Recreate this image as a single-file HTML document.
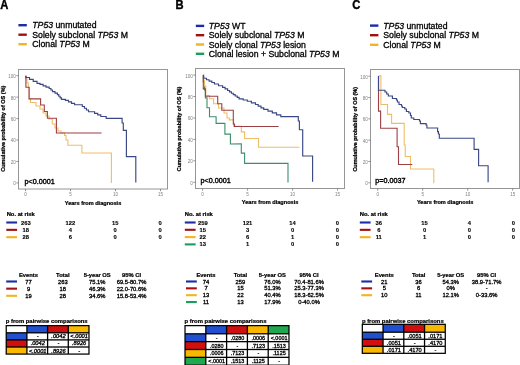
<!DOCTYPE html>
<html><head><meta charset="utf-8"><style>
html,body{margin:0;padding:0;background:#fff;}
body{width:520px;height:365px;overflow:hidden;}
svg{display:block;font-family:"Liberation Sans", sans-serif;filter:blur(0.25px);}
</style></head><body>
<svg width="520" height="365" viewBox="0 0 520 365">
<rect width="520" height="365" fill="#fff"/>
<text x="0" y="0" font-size="11.2" font-weight="bold" stroke="#000" stroke-width="0.35" transform="translate(0.3,8.6) scale(1,1.13)">A</text>
<text x="0" y="0" font-size="11.2" font-weight="bold" stroke="#000" stroke-width="0.35" transform="translate(175.4,8.6) scale(1,1.13)">B</text>
<text x="0" y="0" font-size="11.2" font-weight="bold" stroke="#000" stroke-width="0.35" transform="translate(352.3,8.6) scale(1,1.13)">C</text>
<line x1="18.4" y1="25.2" x2="26.799999999999997" y2="25.2" stroke="#1b2ea6" stroke-width="2.4" />
<text x="32.3" y="28.3" font-size="8.7" stroke="#000" stroke-width="0.3"><tspan font-style="italic">TP53</tspan> unmutated</text>
<line x1="18.4" y1="34.7" x2="26.799999999999997" y2="34.7" stroke="#a01212" stroke-width="2.4" />
<text x="32.3" y="37.8" font-size="8.7" stroke="#000" stroke-width="0.3">Solely subclonal <tspan font-style="italic">TP53</tspan> M</text>
<line x1="18.4" y1="44.2" x2="26.799999999999997" y2="44.2" stroke="#f0b424" stroke-width="2.4" />
<text x="32.3" y="47.3" font-size="8.7" stroke="#000" stroke-width="0.3">Clonal <tspan font-style="italic">TP53</tspan> M</text>
<line x1="195.8" y1="25.9" x2="204.20000000000002" y2="25.9" stroke="#1b2ea6" stroke-width="2.4" />
<text x="208.8" y="29.0" font-size="8.7" stroke="#000" stroke-width="0.3"><tspan font-style="italic">TP53</tspan> WT</text>
<line x1="195.8" y1="35.2" x2="204.20000000000002" y2="35.2" stroke="#a01212" stroke-width="2.4" />
<text x="208.8" y="38.3" font-size="8.7" stroke="#000" stroke-width="0.3">Solely subclonal <tspan font-style="italic">TP53</tspan> M</text>
<line x1="195.8" y1="44.5" x2="204.20000000000002" y2="44.5" stroke="#f0b424" stroke-width="2.4" />
<text x="208.8" y="47.6" font-size="8.7" stroke="#000" stroke-width="0.3">Solely clonal <tspan font-style="italic">TP53</tspan> lesion</text>
<line x1="195.8" y1="53.8" x2="204.20000000000002" y2="53.8" stroke="#1a9e5c" stroke-width="2.4" />
<text x="208.8" y="56.9" font-size="8.7" stroke="#000" stroke-width="0.3">Clonal lesion + Subclonal <tspan font-style="italic">TP53</tspan> M</text>
<line x1="370" y1="25.6" x2="378.4" y2="25.6" stroke="#1b2ea6" stroke-width="2.4" />
<text x="383.3" y="28.7" font-size="8.7" stroke="#000" stroke-width="0.3"><tspan font-style="italic">TP53</tspan> unmutated</text>
<line x1="370" y1="35.2" x2="378.4" y2="35.2" stroke="#a01212" stroke-width="2.4" />
<text x="383.3" y="38.3" font-size="8.7" stroke="#000" stroke-width="0.3">Solely subclonal <tspan font-style="italic">TP53</tspan> M</text>
<line x1="370" y1="44.8" x2="378.4" y2="44.8" stroke="#f0b424" stroke-width="2.4" />
<text x="383.3" y="47.9" font-size="8.7" stroke="#000" stroke-width="0.3">Clonal <tspan font-style="italic">TP53</tspan> M</text>
<rect x="18.5" y="69.5" width="149.0" height="119.5" fill="#fff" stroke="#969696" stroke-width="1"/>
<line x1="16.3" y1="75.7" x2="18.5" y2="75.7" stroke="#777" stroke-width="0.8" />
<text x="15.9" y="78.10000000000001" font-size="4.6" font-weight="normal" text-anchor="end" fill="#808080" >100</text>
<line x1="16.3" y1="97.14" x2="18.5" y2="97.14" stroke="#777" stroke-width="0.8" />
<text x="15.9" y="99.54" font-size="4.6" font-weight="normal" text-anchor="end" fill="#808080" >80</text>
<line x1="16.3" y1="118.58000000000001" x2="18.5" y2="118.58000000000001" stroke="#777" stroke-width="0.8" />
<text x="15.9" y="120.98000000000002" font-size="4.6" font-weight="normal" text-anchor="end" fill="#808080" >60</text>
<line x1="16.3" y1="140.02" x2="18.5" y2="140.02" stroke="#777" stroke-width="0.8" />
<text x="15.9" y="142.42000000000002" font-size="4.6" font-weight="normal" text-anchor="end" fill="#808080" >40</text>
<line x1="16.3" y1="161.46" x2="18.5" y2="161.46" stroke="#777" stroke-width="0.8" />
<text x="15.9" y="163.86" font-size="4.6" font-weight="normal" text-anchor="end" fill="#808080" >20</text>
<line x1="16.3" y1="182.9" x2="18.5" y2="182.9" stroke="#777" stroke-width="0.8" />
<text x="15.9" y="185.3" font-size="4.6" font-weight="normal" text-anchor="end" fill="#808080" >0</text>
<line x1="25.5" y1="189" x2="25.5" y2="191.2" stroke="#777" stroke-width="0.8" />
<text x="25.5" y="196.4" font-size="4.6" font-weight="normal" text-anchor="middle" fill="#808080" >0</text>
<line x1="70.5" y1="189" x2="70.5" y2="191.2" stroke="#777" stroke-width="0.8" />
<text x="70.5" y="196.4" font-size="4.6" font-weight="normal" text-anchor="middle" fill="#808080" >5</text>
<line x1="115.5" y1="189" x2="115.5" y2="191.2" stroke="#777" stroke-width="0.8" />
<text x="115.5" y="196.4" font-size="4.6" font-weight="normal" text-anchor="middle" fill="#808080" >10</text>
<line x1="160.5" y1="189" x2="160.5" y2="191.2" stroke="#777" stroke-width="0.8" />
<text x="160.5" y="196.4" font-size="4.6" font-weight="normal" text-anchor="middle" fill="#808080" >15</text>
<text x="93.0" y="204.6" font-size="5.6" font-weight="bold" text-anchor="middle" fill="#000"  stroke="#000" stroke-width="0.22">Years from diagnosis</text>
<text x="0" y="0" font-size="5.55" font-weight="bold" text-anchor="middle" stroke="#000" stroke-width="0.25" transform="translate(4.7,128.7) rotate(-90)">Cumulative probability of OS (%)</text>
<path d="M25.9,75.7 L25.9,79.0 L27.0,79.0 L27.0,83.0 L28.3,83.0 L28.3,87.5 L29.5,87.5 L29.5,99.0 L30.5,99.0 L30.5,102.5 L36.0,102.5 L36.0,106.0 L40.0,106.0 L40.0,109.0 L43.0,109.0 L43.0,113.0 L46.0,113.0 L46.0,116.0 L49.0,116.0 L49.0,119.0 L52.3,119.0 L52.3,124.0 L55.0,124.0 L55.0,128.0 L58.0,128.0 L58.0,131.0 L61.0,131.0 L61.0,133.0 L64.6,133.0 L64.6,135.5 L66.0,135.5 L66.0,140.0 L67.9,140.0 L67.9,145.3 L81.9,145.3 L81.9,153.0 L111.4,153.0 L111.4,183.0" fill="none" stroke="#efbd68" stroke-width="1.1" stroke-opacity="1" stroke-linejoin="miter"/>
<path d="M25.9,75.7 L25.9,87.2 L29.0,87.2 L29.0,98.9 L40.6,98.9 L40.6,105.0 L44.3,105.0 L44.3,111.5 L47.4,111.5 L47.4,118.2 L56.4,118.2 L56.4,133.0 L101.6,133.0" fill="none" stroke="#9c4046" stroke-width="1.1" stroke-opacity="1" stroke-linejoin="miter"/>
<path d="M25.9,75.7 L25.9,77.5 L25.9,77.5 L29.5,77.5 L29.5,79.4 L33.2,79.4 L33.2,81.4 L37.0,81.4 L37.0,83.4 L40.0,83.4 L40.0,84.4 L43.1,84.4 L43.1,85.8 L46.1,85.8 L46.1,87.1 L49.2,87.1 L49.2,88.5 L50.9,88.5 L50.9,90.0 L52.5,90.0 L52.5,91.6 L55.0,91.6 L55.0,93.1 L57.4,93.1 L57.4,94.6 L58.8,94.6 L58.8,96.2 L60.1,96.2 L60.1,97.8 L61.5,97.8 L61.5,99.4 L65.4,99.4 L65.4,100.4 L68.5,100.4 L68.5,101.8 L71.5,101.8 L71.5,103.3 L74.6,103.3 L74.6,104.7 L82.3,104.7 L82.3,106.5 L84.4,106.5 L84.4,108.2 L86.4,108.2 L86.4,110.0 L88.5,110.0 L88.5,111.7 L94.6,111.7 L94.6,113.3 L97.7,113.3 L97.7,114.9 L100.8,114.9 L100.8,116.5 L106.2,116.5 L106.2,118.3 L122.1,118.3 L122.1,123.0 L123.3,123.0 L123.3,130.3 L126.4,130.3 L126.4,156.6 L135.8,156.6 L135.8,182.6" fill="none" stroke="#3b4884" stroke-width="1.15" stroke-opacity="1" stroke-linejoin="miter"/>
<text x="24.6" y="183.5" font-size="7.2" font-weight="normal" text-anchor="start" fill="#000" stroke="#000" stroke-width="0.38">p&lt;0.0001</text>
<rect x="195.5" y="68.5" width="149.0" height="120.0" fill="#fff" stroke="#969696" stroke-width="1"/>
<line x1="193.3" y1="75.1" x2="195.5" y2="75.1" stroke="#777" stroke-width="0.8" />
<text x="192.9" y="77.5" font-size="4.6" font-weight="normal" text-anchor="end" fill="#808080" >100</text>
<line x1="193.3" y1="96.53999999999999" x2="195.5" y2="96.53999999999999" stroke="#777" stroke-width="0.8" />
<text x="192.9" y="98.94" font-size="4.6" font-weight="normal" text-anchor="end" fill="#808080" >80</text>
<line x1="193.3" y1="117.98" x2="195.5" y2="117.98" stroke="#777" stroke-width="0.8" />
<text x="192.9" y="120.38000000000001" font-size="4.6" font-weight="normal" text-anchor="end" fill="#808080" >60</text>
<line x1="193.3" y1="139.42000000000002" x2="195.5" y2="139.42000000000002" stroke="#777" stroke-width="0.8" />
<text x="192.9" y="141.82000000000002" font-size="4.6" font-weight="normal" text-anchor="end" fill="#808080" >40</text>
<line x1="193.3" y1="160.86" x2="195.5" y2="160.86" stroke="#777" stroke-width="0.8" />
<text x="192.9" y="163.26000000000002" font-size="4.6" font-weight="normal" text-anchor="end" fill="#808080" >20</text>
<line x1="193.3" y1="182.3" x2="195.5" y2="182.3" stroke="#777" stroke-width="0.8" />
<text x="192.9" y="184.70000000000002" font-size="4.6" font-weight="normal" text-anchor="end" fill="#808080" >0</text>
<line x1="202.6" y1="188.5" x2="202.6" y2="190.7" stroke="#777" stroke-width="0.8" />
<text x="202.6" y="195.9" font-size="4.6" font-weight="normal" text-anchor="middle" fill="#808080" >0</text>
<line x1="247.6" y1="188.5" x2="247.6" y2="190.7" stroke="#777" stroke-width="0.8" />
<text x="247.6" y="195.9" font-size="4.6" font-weight="normal" text-anchor="middle" fill="#808080" >5</text>
<line x1="292.6" y1="188.5" x2="292.6" y2="190.7" stroke="#777" stroke-width="0.8" />
<text x="292.6" y="195.9" font-size="4.6" font-weight="normal" text-anchor="middle" fill="#808080" >10</text>
<line x1="337.6" y1="188.5" x2="337.6" y2="190.7" stroke="#777" stroke-width="0.8" />
<text x="337.6" y="195.9" font-size="4.6" font-weight="normal" text-anchor="middle" fill="#808080" >15</text>
<text x="270.1" y="204.1" font-size="5.6" font-weight="bold" text-anchor="middle" fill="#000"  stroke="#000" stroke-width="0.22">Years from diagnosis</text>
<text x="0" y="0" font-size="5.45" font-weight="bold" text-anchor="middle" stroke="#000" stroke-width="0.25" transform="translate(181.4,129.0) rotate(-90)">Cumulative probability of OS (%)</text>
<path d="M203.3,75.1 L203.3,82.0 L204.5,82.0 L204.5,90.0 L205.4,90.0 L205.4,97.9 L207.0,97.9 L207.0,107.8 L209.5,107.8 L209.5,116.8 L216.1,116.8 L216.1,123.4 L224.9,123.4 L224.9,134.1 L230.4,134.1 L230.4,144.0 L241.3,143.7 L241.3,153.1 L244.6,153.1 L244.6,163.4 L288.0,163.4 L288.0,182.4" fill="none" stroke="#3a8e6c" stroke-width="1.1" stroke-opacity="1" stroke-linejoin="miter"/>
<path d="M203.3,75.1 L203.3,80.0 L204.4,80.0 L204.4,86.0 L205.8,86.0 L205.8,95.5 L209.5,95.5 L209.5,98.8 L213.6,98.8 L213.6,103.7 L218.5,103.7 L218.5,108.0 L224.0,108.0 L224.0,113.0 L227.0,113.0 L227.0,118.0 L229.3,118.0 L229.3,119.9 L233.6,119.9 L233.6,126.4 L241.3,126.4 L241.3,131.9 L244.6,131.9 L244.6,138.5 L258.5,138.5 L258.5,147.3 L299.4,147.3" fill="none" stroke="#efbd68" stroke-width="1.1" stroke-opacity="1" stroke-linejoin="miter"/>
<path d="M203.3,75.1 L203.3,88.9 L205.4,88.9 L205.4,96.3 L217.7,96.3 L217.7,103.7 L221.8,103.7 L221.8,110.3 L233.3,110.3 L233.3,124.0 L234.5,124.0 L234.5,126.5 L278.6,126.5" fill="none" stroke="#9c4046" stroke-width="1.1" stroke-opacity="1" stroke-linejoin="miter"/>
<path d="M203.3,75.1 L203.6,75.1 L203.6,76.7 L203.8,76.7 L203.8,78.2 L206.5,78.2 L206.5,79.7 L209.1,79.7 L209.1,81.1 L211.8,81.1 L211.8,82.5 L214.4,82.5 L214.4,84.0 L218.5,84.0 L218.5,85.7 L222.6,85.7 L222.6,87.3 L225.1,87.3 L225.1,88.9 L227.6,88.9 L227.6,90.5 L229.5,90.5 L229.5,91.9 L231.4,91.9 L231.4,93.2 L233.3,93.2 L233.3,94.6 L235.2,94.6 L235.2,96.0 L237.2,96.0 L237.2,97.4 L239.1,97.4 L239.1,98.8 L243.2,98.8 L243.2,100.0 L247.3,100.0 L247.3,101.2 L251.4,101.2 L251.4,102.8 L255.5,102.8 L255.5,104.5 L258.2,104.5 L258.2,106.1 L261.0,106.1 L261.0,107.8 L263.7,107.8 L263.7,109.4 L268.0,109.4 L268.0,111.1 L272.3,111.1 L272.3,112.9 L276.5,112.9 L276.5,114.8 L280.8,114.8 L280.8,116.6 L298.3,116.6 L298.3,117.5 L298.3,121.0 L299.4,121.0 L299.4,129.7 L302.7,129.7 L302.7,156.0 L312.6,156.0 L312.6,181.8" fill="none" stroke="#3b4884" stroke-width="1.15" stroke-opacity="1" stroke-linejoin="miter"/>
<text x="200.5" y="183.10000000000002" font-size="7.2" font-weight="normal" text-anchor="start" fill="#000" stroke="#000" stroke-width="0.38">p&lt;0.0001</text>
<rect x="370.5" y="69.5" width="149.0" height="119.0" fill="#fff" stroke="#969696" stroke-width="1"/>
<line x1="368.3" y1="76.2" x2="370.5" y2="76.2" stroke="#777" stroke-width="0.8" />
<text x="367.9" y="78.60000000000001" font-size="4.6" font-weight="normal" text-anchor="end" fill="#808080" >100</text>
<line x1="368.3" y1="97.52000000000001" x2="370.5" y2="97.52000000000001" stroke="#777" stroke-width="0.8" />
<text x="367.9" y="99.92000000000002" font-size="4.6" font-weight="normal" text-anchor="end" fill="#808080" >80</text>
<line x1="368.3" y1="118.84" x2="370.5" y2="118.84" stroke="#777" stroke-width="0.8" />
<text x="367.9" y="121.24000000000001" font-size="4.6" font-weight="normal" text-anchor="end" fill="#808080" >60</text>
<line x1="368.3" y1="140.16" x2="370.5" y2="140.16" stroke="#777" stroke-width="0.8" />
<text x="367.9" y="142.56" font-size="4.6" font-weight="normal" text-anchor="end" fill="#808080" >40</text>
<line x1="368.3" y1="161.48000000000002" x2="370.5" y2="161.48000000000002" stroke="#777" stroke-width="0.8" />
<text x="367.9" y="163.88000000000002" font-size="4.6" font-weight="normal" text-anchor="end" fill="#808080" >20</text>
<line x1="368.3" y1="182.8" x2="370.5" y2="182.8" stroke="#777" stroke-width="0.8" />
<text x="367.9" y="185.20000000000002" font-size="4.6" font-weight="normal" text-anchor="end" fill="#808080" >0</text>
<line x1="377.7" y1="188.5" x2="377.7" y2="190.7" stroke="#777" stroke-width="0.8" />
<text x="377.7" y="195.9" font-size="4.6" font-weight="normal" text-anchor="middle" fill="#808080" >0</text>
<line x1="422.7" y1="188.5" x2="422.7" y2="190.7" stroke="#777" stroke-width="0.8" />
<text x="422.7" y="195.9" font-size="4.6" font-weight="normal" text-anchor="middle" fill="#808080" >5</text>
<line x1="467.7" y1="188.5" x2="467.7" y2="190.7" stroke="#777" stroke-width="0.8" />
<text x="467.7" y="195.9" font-size="4.6" font-weight="normal" text-anchor="middle" fill="#808080" >10</text>
<line x1="512.7" y1="188.5" x2="512.7" y2="190.7" stroke="#777" stroke-width="0.8" />
<text x="512.7" y="195.9" font-size="4.6" font-weight="normal" text-anchor="middle" fill="#808080" >15</text>
<text x="445.2" y="204.1" font-size="5.6" font-weight="bold" text-anchor="middle" fill="#000"  stroke="#000" stroke-width="0.22">Years from diagnosis</text>
<text x="0" y="0" font-size="5.45" font-weight="bold" text-anchor="middle" stroke="#000" stroke-width="0.25" transform="translate(356.9,129.3) rotate(-90)">Cumulative probability of OS (%)</text>
<path d="M378.5,75.9 L380.9,75.9 L380.9,75.9 L380.9,104.5 L387.5,104.5 L387.5,114.4 L391.6,114.4 L391.6,123.4 L404.2,123.4 L404.2,145.0 L405.2,145.0 L405.2,156.5 L410.5,156.5 L410.5,169.0 L433.8,169.0 L433.8,183.2" fill="none" stroke="#efbd68" stroke-width="1.1" stroke-opacity="1" stroke-linejoin="miter"/>
<path d="M378.5,75.9 L378.5,75.9 L378.5,111.1 L380.6,111.1 L380.6,128.2 L397.1,128.2 L397.1,146.7 L398.5,146.7 L398.5,164.5 L412.3,164.5" fill="none" stroke="#9c4046" stroke-width="1.1" stroke-opacity="1" stroke-linejoin="miter"/>
<path d="M378.5,75.9 L378.5,75.9 L378.5,90.2 L385.0,90.2 L385.0,92.0 L386.7,92.0 L386.7,94.0 L388.3,94.0 L388.3,96.0 L392.4,96.0 L392.4,98.5 L396.5,98.5 L396.5,100.0 L397.4,100.0 L397.4,102.0 L399.0,102.0 L399.0,104.5 L401.5,104.5 L401.5,106.0 L402.3,106.0 L402.3,107.5 L404.8,107.5 L404.8,109.0 L406.4,109.0 L406.4,111.5 L408.9,111.5 L408.9,113.0 L410.5,113.0 L410.5,115.5 L411.3,115.5 L411.3,118.0 L413.8,118.0 L413.8,119.5 L419.5,119.5 L419.5,121.0 L420.4,121.0 L420.4,123.6 L426.1,123.6 L426.1,125.0 L426.9,125.0 L426.9,128.0 L437.6,128.0 L437.6,131.6 L438.4,131.6 L438.4,134.0 L439.3,134.0 L439.3,138.2 L474.1,138.2 L474.1,149.3 L478.6,149.3 L478.6,165.7 L488.1,165.7 L488.1,182.2" fill="none" stroke="#3b4884" stroke-width="1.15" stroke-opacity="1" stroke-linejoin="miter"/>
<text x="375.3" y="183.10000000000002" font-size="7.2" font-weight="normal" text-anchor="start" fill="#000" stroke="#000" stroke-width="0.38">p=0.0037</text>
<text x="6.7" y="216.1" font-size="5.8" font-weight="bold" text-anchor="start" fill="#000"  stroke="#000" stroke-width="0.22">No. at risk</text>
<line x1="6.3" y1="222.5" x2="17.1" y2="222.5" stroke="#1b2ea6" stroke-width="2.1" />
<text x="25.8" y="224.55" font-size="5.8" font-weight="bold" text-anchor="middle" fill="#000"  stroke="#000" stroke-width="0.12">263</text>
<text x="70.3" y="224.55" font-size="5.8" font-weight="bold" text-anchor="middle" fill="#000"  stroke="#000" stroke-width="0.12">122</text>
<text x="115.2" y="224.55" font-size="5.8" font-weight="bold" text-anchor="middle" fill="#000"  stroke="#000" stroke-width="0.12">15</text>
<text x="160" y="224.55" font-size="5.8" font-weight="bold" text-anchor="middle" fill="#000"  stroke="#000" stroke-width="0.12">0</text>
<line x1="6.3" y1="229.85" x2="17.1" y2="229.85" stroke="#a01212" stroke-width="2.1" />
<text x="25.8" y="231.9" font-size="5.8" font-weight="bold" text-anchor="middle" fill="#000"  stroke="#000" stroke-width="0.12">18</text>
<text x="70.3" y="231.9" font-size="5.8" font-weight="bold" text-anchor="middle" fill="#000"  stroke="#000" stroke-width="0.12">4</text>
<text x="115.2" y="231.9" font-size="5.8" font-weight="bold" text-anchor="middle" fill="#000"  stroke="#000" stroke-width="0.12">0</text>
<text x="160" y="231.9" font-size="5.8" font-weight="bold" text-anchor="middle" fill="#000"  stroke="#000" stroke-width="0.12">0</text>
<line x1="6.3" y1="237.2" x2="17.1" y2="237.2" stroke="#f0b424" stroke-width="2.1" />
<text x="25.8" y="239.25" font-size="5.8" font-weight="bold" text-anchor="middle" fill="#000"  stroke="#000" stroke-width="0.12">28</text>
<text x="70.3" y="239.25" font-size="5.8" font-weight="bold" text-anchor="middle" fill="#000"  stroke="#000" stroke-width="0.12">6</text>
<text x="115.2" y="239.25" font-size="5.8" font-weight="bold" text-anchor="middle" fill="#000"  stroke="#000" stroke-width="0.12">0</text>
<text x="160" y="239.25" font-size="5.8" font-weight="bold" text-anchor="middle" fill="#000"  stroke="#000" stroke-width="0.12">0</text>
<text x="184.8" y="216.1" font-size="5.8" font-weight="bold" text-anchor="start" fill="#000"  stroke="#000" stroke-width="0.22">No. at risk</text>
<line x1="184.8" y1="222.5" x2="195.60000000000002" y2="222.5" stroke="#1b2ea6" stroke-width="2.1" />
<text x="202.8" y="224.55" font-size="5.8" font-weight="bold" text-anchor="middle" fill="#000"  stroke="#000" stroke-width="0.12">259</text>
<text x="247.5" y="224.55" font-size="5.8" font-weight="bold" text-anchor="middle" fill="#000"  stroke="#000" stroke-width="0.12">121</text>
<text x="292.6" y="224.55" font-size="5.8" font-weight="bold" text-anchor="middle" fill="#000"  stroke="#000" stroke-width="0.12">14</text>
<text x="337.4" y="224.55" font-size="5.8" font-weight="bold" text-anchor="middle" fill="#000"  stroke="#000" stroke-width="0.12">0</text>
<line x1="184.8" y1="229.8" x2="195.60000000000002" y2="229.8" stroke="#a01212" stroke-width="2.1" />
<text x="202.8" y="231.85000000000002" font-size="5.8" font-weight="bold" text-anchor="middle" fill="#000"  stroke="#000" stroke-width="0.12">15</text>
<text x="247.5" y="231.85000000000002" font-size="5.8" font-weight="bold" text-anchor="middle" fill="#000"  stroke="#000" stroke-width="0.12">3</text>
<text x="292.6" y="231.85000000000002" font-size="5.8" font-weight="bold" text-anchor="middle" fill="#000"  stroke="#000" stroke-width="0.12">0</text>
<text x="337.4" y="231.85000000000002" font-size="5.8" font-weight="bold" text-anchor="middle" fill="#000"  stroke="#000" stroke-width="0.12">0</text>
<line x1="184.8" y1="237.1" x2="195.60000000000002" y2="237.1" stroke="#f0b424" stroke-width="2.1" />
<text x="202.8" y="239.15" font-size="5.8" font-weight="bold" text-anchor="middle" fill="#000"  stroke="#000" stroke-width="0.12">22</text>
<text x="247.5" y="239.15" font-size="5.8" font-weight="bold" text-anchor="middle" fill="#000"  stroke="#000" stroke-width="0.12">6</text>
<text x="292.6" y="239.15" font-size="5.8" font-weight="bold" text-anchor="middle" fill="#000"  stroke="#000" stroke-width="0.12">1</text>
<text x="337.4" y="239.15" font-size="5.8" font-weight="bold" text-anchor="middle" fill="#000"  stroke="#000" stroke-width="0.12">0</text>
<line x1="184.8" y1="244.4" x2="195.60000000000002" y2="244.4" stroke="#1a9e5c" stroke-width="2.1" />
<text x="202.8" y="246.45000000000002" font-size="5.8" font-weight="bold" text-anchor="middle" fill="#000"  stroke="#000" stroke-width="0.12">13</text>
<text x="247.5" y="246.45000000000002" font-size="5.8" font-weight="bold" text-anchor="middle" fill="#000"  stroke="#000" stroke-width="0.12">1</text>
<text x="292.6" y="246.45000000000002" font-size="5.8" font-weight="bold" text-anchor="middle" fill="#000"  stroke="#000" stroke-width="0.12">0</text>
<text x="337.4" y="246.45000000000002" font-size="5.8" font-weight="bold" text-anchor="middle" fill="#000"  stroke="#000" stroke-width="0.12">0</text>
<text x="359.8" y="216.1" font-size="5.8" font-weight="bold" text-anchor="start" fill="#000"  stroke="#000" stroke-width="0.22">No. at risk</text>
<line x1="359.8" y1="222.5" x2="370.6" y2="222.5" stroke="#1b2ea6" stroke-width="2.1" />
<text x="378.8" y="224.55" font-size="5.8" font-weight="bold" text-anchor="middle" fill="#000"  stroke="#000" stroke-width="0.12">36</text>
<text x="424.5" y="224.55" font-size="5.8" font-weight="bold" text-anchor="middle" fill="#000"  stroke="#000" stroke-width="0.12">15</text>
<text x="469.3" y="224.55" font-size="5.8" font-weight="bold" text-anchor="middle" fill="#000"  stroke="#000" stroke-width="0.12">4</text>
<text x="513.4" y="224.55" font-size="5.8" font-weight="bold" text-anchor="middle" fill="#000"  stroke="#000" stroke-width="0.12">0</text>
<line x1="359.8" y1="229.85" x2="370.6" y2="229.85" stroke="#a01212" stroke-width="2.1" />
<text x="378.8" y="231.9" font-size="5.8" font-weight="bold" text-anchor="middle" fill="#000"  stroke="#000" stroke-width="0.12">6</text>
<text x="424.5" y="231.9" font-size="5.8" font-weight="bold" text-anchor="middle" fill="#000"  stroke="#000" stroke-width="0.12">0</text>
<text x="469.3" y="231.9" font-size="5.8" font-weight="bold" text-anchor="middle" fill="#000"  stroke="#000" stroke-width="0.12">0</text>
<text x="513.4" y="231.9" font-size="5.8" font-weight="bold" text-anchor="middle" fill="#000"  stroke="#000" stroke-width="0.12">0</text>
<line x1="359.8" y1="237.2" x2="370.6" y2="237.2" stroke="#f0b424" stroke-width="2.1" />
<text x="378.8" y="239.25" font-size="5.8" font-weight="bold" text-anchor="middle" fill="#000"  stroke="#000" stroke-width="0.12">11</text>
<text x="424.5" y="239.25" font-size="5.8" font-weight="bold" text-anchor="middle" fill="#000"  stroke="#000" stroke-width="0.12">1</text>
<text x="469.3" y="239.25" font-size="5.8" font-weight="bold" text-anchor="middle" fill="#000"  stroke="#000" stroke-width="0.12">0</text>
<text x="513.4" y="239.25" font-size="5.8" font-weight="bold" text-anchor="middle" fill="#000"  stroke="#000" stroke-width="0.12">0</text>
<text x="28.5" y="276.7" font-size="5.8" font-weight="bold" text-anchor="middle" fill="#000"  stroke="#000" stroke-width="0.22">Events</text>
<text x="62.8" y="276.7" font-size="5.8" font-weight="bold" text-anchor="middle" fill="#000"  stroke="#000" stroke-width="0.22">Total</text>
<text x="97.2" y="276.7" font-size="5.8" font-weight="bold" text-anchor="middle" fill="#000"  stroke="#000" stroke-width="0.22">5-year OS</text>
<text x="131.5" y="276.7" font-size="5.8" font-weight="bold" text-anchor="middle" fill="#000"  stroke="#000" stroke-width="0.22">95% CI</text>
<line x1="6.2" y1="281.5" x2="17.0" y2="281.5" stroke="#1b2ea6" stroke-width="2.1" />
<text x="28.5" y="283.55" font-size="5.8" font-weight="normal" text-anchor="middle" fill="#000"  stroke="#000" stroke-width="0.3">77</text>
<text x="62.8" y="283.55" font-size="5.8" font-weight="normal" text-anchor="middle" fill="#000"  stroke="#000" stroke-width="0.3">263</text>
<text x="97.2" y="283.55" font-size="5.8" font-weight="normal" text-anchor="middle" fill="#000"  stroke="#000" stroke-width="0.3">75.1%</text>
<text x="131.5" y="283.55" font-size="5.8" font-weight="normal" text-anchor="middle" fill="#000"  stroke="#000" stroke-width="0.3">69.5-80.7%</text>
<line x1="6.2" y1="288.65" x2="17.0" y2="288.65" stroke="#a01212" stroke-width="2.1" />
<text x="28.5" y="290.7" font-size="5.8" font-weight="normal" text-anchor="middle" fill="#000"  stroke="#000" stroke-width="0.3">9</text>
<text x="62.8" y="290.7" font-size="5.8" font-weight="normal" text-anchor="middle" fill="#000"  stroke="#000" stroke-width="0.3">18</text>
<text x="97.2" y="290.7" font-size="5.8" font-weight="normal" text-anchor="middle" fill="#000"  stroke="#000" stroke-width="0.3">46.3%</text>
<text x="131.5" y="290.7" font-size="5.8" font-weight="normal" text-anchor="middle" fill="#000"  stroke="#000" stroke-width="0.3">22.0-70.6%</text>
<line x1="6.2" y1="295.8" x2="17.0" y2="295.8" stroke="#f0b424" stroke-width="2.1" />
<text x="28.5" y="297.85" font-size="5.8" font-weight="normal" text-anchor="middle" fill="#000"  stroke="#000" stroke-width="0.3">19</text>
<text x="62.8" y="297.85" font-size="5.8" font-weight="normal" text-anchor="middle" fill="#000"  stroke="#000" stroke-width="0.3">28</text>
<text x="97.2" y="297.85" font-size="5.8" font-weight="normal" text-anchor="middle" fill="#000"  stroke="#000" stroke-width="0.3">34.6%</text>
<text x="131.5" y="297.85" font-size="5.8" font-weight="normal" text-anchor="middle" fill="#000"  stroke="#000" stroke-width="0.3">15.8-53.4%</text>
<text x="206" y="276.7" font-size="5.8" font-weight="bold" text-anchor="middle" fill="#000"  stroke="#000" stroke-width="0.22">Events</text>
<text x="240.4" y="276.7" font-size="5.8" font-weight="bold" text-anchor="middle" fill="#000"  stroke="#000" stroke-width="0.22">Total</text>
<text x="272.4" y="276.7" font-size="5.8" font-weight="bold" text-anchor="middle" fill="#000"  stroke="#000" stroke-width="0.22">5-year OS</text>
<text x="309" y="276.7" font-size="5.8" font-weight="bold" text-anchor="middle" fill="#000"  stroke="#000" stroke-width="0.22">95% CI</text>
<line x1="186.0" y1="281.5" x2="196.8" y2="281.5" stroke="#1b2ea6" stroke-width="2.1" />
<text x="206" y="283.55" font-size="5.8" font-weight="normal" text-anchor="middle" fill="#000"  stroke="#000" stroke-width="0.3">74</text>
<text x="240.4" y="283.55" font-size="5.8" font-weight="normal" text-anchor="middle" fill="#000"  stroke="#000" stroke-width="0.3">259</text>
<text x="272.4" y="283.55" font-size="5.8" font-weight="normal" text-anchor="middle" fill="#000"  stroke="#000" stroke-width="0.3">76.0%</text>
<text x="309" y="283.55" font-size="5.8" font-weight="normal" text-anchor="middle" fill="#000"  stroke="#000" stroke-width="0.3">70.4-81.6%</text>
<line x1="186.0" y1="288.35" x2="196.8" y2="288.35" stroke="#a01212" stroke-width="2.1" />
<text x="206" y="290.40000000000003" font-size="5.8" font-weight="normal" text-anchor="middle" fill="#000"  stroke="#000" stroke-width="0.3">7</text>
<text x="240.4" y="290.40000000000003" font-size="5.8" font-weight="normal" text-anchor="middle" fill="#000"  stroke="#000" stroke-width="0.3">15</text>
<text x="272.4" y="290.40000000000003" font-size="5.8" font-weight="normal" text-anchor="middle" fill="#000"  stroke="#000" stroke-width="0.3">51.3%</text>
<text x="309" y="290.40000000000003" font-size="5.8" font-weight="normal" text-anchor="middle" fill="#000"  stroke="#000" stroke-width="0.3">25.3-77.3%</text>
<line x1="186.0" y1="295.2" x2="196.8" y2="295.2" stroke="#f0b424" stroke-width="2.1" />
<text x="206" y="297.25" font-size="5.8" font-weight="normal" text-anchor="middle" fill="#000"  stroke="#000" stroke-width="0.3">13</text>
<text x="240.4" y="297.25" font-size="5.8" font-weight="normal" text-anchor="middle" fill="#000"  stroke="#000" stroke-width="0.3">22</text>
<text x="272.4" y="297.25" font-size="5.8" font-weight="normal" text-anchor="middle" fill="#000"  stroke="#000" stroke-width="0.3">40.4%</text>
<text x="309" y="297.25" font-size="5.8" font-weight="normal" text-anchor="middle" fill="#000"  stroke="#000" stroke-width="0.3">18.3-62.5%</text>
<line x1="186.0" y1="302.05" x2="196.8" y2="302.05" stroke="#1a9e5c" stroke-width="2.1" />
<text x="206" y="304.1" font-size="5.8" font-weight="normal" text-anchor="middle" fill="#000"  stroke="#000" stroke-width="0.3">11</text>
<text x="240.4" y="304.1" font-size="5.8" font-weight="normal" text-anchor="middle" fill="#000"  stroke="#000" stroke-width="0.3">13</text>
<text x="272.4" y="304.1" font-size="5.8" font-weight="normal" text-anchor="middle" fill="#000"  stroke="#000" stroke-width="0.3">17.9%</text>
<text x="309" y="304.1" font-size="5.8" font-weight="normal" text-anchor="middle" fill="#000"  stroke="#000" stroke-width="0.3">0-40.0%</text>
<text x="384.3" y="276.7" font-size="5.8" font-weight="bold" text-anchor="middle" fill="#000"  stroke="#000" stroke-width="0.22">Events</text>
<text x="418.6" y="276.7" font-size="5.8" font-weight="bold" text-anchor="middle" fill="#000"  stroke="#000" stroke-width="0.22">Total</text>
<text x="450.7" y="276.7" font-size="5.8" font-weight="bold" text-anchor="middle" fill="#000"  stroke="#000" stroke-width="0.22">5-year OS</text>
<text x="486.6" y="276.7" font-size="5.8" font-weight="bold" text-anchor="middle" fill="#000"  stroke="#000" stroke-width="0.22">95% CI</text>
<line x1="361.3" y1="281.5" x2="372.1" y2="281.5" stroke="#1b2ea6" stroke-width="2.1" />
<text x="384.3" y="283.55" font-size="5.8" font-weight="normal" text-anchor="middle" fill="#000"  stroke="#000" stroke-width="0.3">21</text>
<text x="418.6" y="283.55" font-size="5.8" font-weight="normal" text-anchor="middle" fill="#000"  stroke="#000" stroke-width="0.3">36</text>
<text x="450.7" y="283.55" font-size="5.8" font-weight="normal" text-anchor="middle" fill="#000"  stroke="#000" stroke-width="0.3">54.3%</text>
<text x="486.6" y="283.55" font-size="5.8" font-weight="normal" text-anchor="middle" fill="#000"  stroke="#000" stroke-width="0.3">38.9-71.7%</text>
<line x1="361.3" y1="288.35" x2="372.1" y2="288.35" stroke="#a01212" stroke-width="2.1" />
<text x="384.3" y="290.40000000000003" font-size="5.8" font-weight="normal" text-anchor="middle" fill="#000"  stroke="#000" stroke-width="0.3">5</text>
<text x="418.6" y="290.40000000000003" font-size="5.8" font-weight="normal" text-anchor="middle" fill="#000"  stroke="#000" stroke-width="0.3">6</text>
<text x="450.7" y="290.40000000000003" font-size="5.8" font-weight="normal" text-anchor="middle" fill="#000"  stroke="#000" stroke-width="0.3">0%</text>
<text x="486.6" y="290.40000000000003" font-size="5.8" font-weight="normal" text-anchor="middle" fill="#000"  stroke="#000" stroke-width="0.3">-</text>
<line x1="361.3" y1="295.2" x2="372.1" y2="295.2" stroke="#f0b424" stroke-width="2.1" />
<text x="384.3" y="297.25" font-size="5.8" font-weight="normal" text-anchor="middle" fill="#000"  stroke="#000" stroke-width="0.3">10</text>
<text x="418.6" y="297.25" font-size="5.8" font-weight="normal" text-anchor="middle" fill="#000"  stroke="#000" stroke-width="0.3">11</text>
<text x="450.7" y="297.25" font-size="5.8" font-weight="normal" text-anchor="middle" fill="#000"  stroke="#000" stroke-width="0.3">12.1%</text>
<text x="486.6" y="297.25" font-size="5.8" font-weight="normal" text-anchor="middle" fill="#000"  stroke="#000" stroke-width="0.3">0-33.6%</text>
<text x="5.8" y="323.1" font-size="5.9" font-weight="bold" text-anchor="start" fill="#000"  stroke="#000" stroke-width="0.22">p from pairwise comparisons</text>
<rect x="5.6000000000000005" y="325.0" width="84.0" height="29.699999999999996" fill="#000" stroke="none" stroke-width="0"/>
<rect x="6.8500000000000005" y="326.25" width="19.4" height="5.9" fill="#fff" stroke="none" stroke-width="0"/>
<rect x="27.549999999999997" y="326.25" width="19.4" height="5.9" fill="#2050d0" stroke="none" stroke-width="0"/>
<rect x="48.25" y="326.25" width="19.4" height="5.9" fill="#d20f0f" stroke="none" stroke-width="0"/>
<rect x="68.95" y="326.25" width="19.4" height="5.9" fill="#f8b800" stroke="none" stroke-width="0"/>
<rect x="6.8500000000000005" y="333.45" width="19.4" height="5.8" fill="#2050d0" stroke="none" stroke-width="0"/>
<rect x="27.549999999999997" y="333.45" width="19.4" height="5.8" fill="#fff" stroke="none" stroke-width="0"/>
<text x="37.75" y="338.3" font-size="5.7" font-weight="normal" text-anchor="middle" fill="#000" font-style="italic"  stroke="#000" stroke-width="0.3">-</text>
<rect x="48.25" y="333.45" width="19.4" height="5.8" fill="#fff" stroke="none" stroke-width="0"/>
<text x="58.45" y="338.3" font-size="5.7" font-weight="normal" text-anchor="middle" fill="#000" font-style="italic"  stroke="#000" stroke-width="0.3">.0042</text>
<rect x="68.95" y="333.45" width="19.4" height="5.8" fill="#fff" stroke="none" stroke-width="0"/>
<text x="79.14999999999999" y="338.3" font-size="5.7" font-weight="normal" text-anchor="middle" fill="#000" font-style="italic"  stroke="#000" stroke-width="0.3">&lt;.0001</text>
<rect x="6.8500000000000005" y="340.55" width="19.4" height="5.8" fill="#d20f0f" stroke="none" stroke-width="0"/>
<rect x="27.549999999999997" y="340.55" width="19.4" height="5.8" fill="#fff" stroke="none" stroke-width="0"/>
<text x="37.75" y="345.40000000000003" font-size="5.7" font-weight="normal" text-anchor="middle" fill="#000" font-style="italic"  stroke="#000" stroke-width="0.3">.0042</text>
<rect x="48.25" y="340.55" width="19.4" height="5.8" fill="#fff" stroke="none" stroke-width="0"/>
<text x="58.45" y="345.40000000000003" font-size="5.7" font-weight="normal" text-anchor="middle" fill="#000" font-style="italic"  stroke="#000" stroke-width="0.3">-</text>
<rect x="68.95" y="340.55" width="19.4" height="5.8" fill="#fff" stroke="none" stroke-width="0"/>
<text x="79.14999999999999" y="345.40000000000003" font-size="5.7" font-weight="normal" text-anchor="middle" fill="#000" font-style="italic"  stroke="#000" stroke-width="0.3">.8926</text>
<rect x="6.8500000000000005" y="347.65" width="19.4" height="5.8" fill="#f8b800" stroke="none" stroke-width="0"/>
<rect x="27.549999999999997" y="347.65" width="19.4" height="5.8" fill="#fff" stroke="none" stroke-width="0"/>
<text x="37.75" y="352.5" font-size="5.7" font-weight="normal" text-anchor="middle" fill="#000" font-style="italic"  stroke="#000" stroke-width="0.3">&lt;.0001</text>
<rect x="48.25" y="347.65" width="19.4" height="5.8" fill="#fff" stroke="none" stroke-width="0"/>
<text x="58.45" y="352.5" font-size="5.7" font-weight="normal" text-anchor="middle" fill="#000" font-style="italic"  stroke="#000" stroke-width="0.3">.8926</text>
<rect x="68.95" y="347.65" width="19.4" height="5.8" fill="#fff" stroke="none" stroke-width="0"/>
<text x="79.14999999999999" y="352.5" font-size="5.7" font-weight="normal" text-anchor="middle" fill="#000" font-style="italic"  stroke="#000" stroke-width="0.3">-</text>
<text x="184.6" y="323.1" font-size="5.9" font-weight="bold" text-anchor="start" fill="#000"  stroke="#000" stroke-width="0.22">p from pairwise comparisons</text>
<rect x="184.4" y="325.0" width="105.2" height="40.8" fill="#000" stroke="none" stroke-width="0"/>
<rect x="185.65" y="326.25" width="19.5" height="6.8999999999999995" fill="#fff" stroke="none" stroke-width="0"/>
<rect x="206.45000000000002" y="326.25" width="19.5" height="6.8999999999999995" fill="#2050d0" stroke="none" stroke-width="0"/>
<rect x="227.25" y="326.25" width="19.5" height="6.8999999999999995" fill="#d20f0f" stroke="none" stroke-width="0"/>
<rect x="248.05" y="326.25" width="19.5" height="6.8999999999999995" fill="#f8b800" stroke="none" stroke-width="0"/>
<rect x="268.84999999999997" y="326.25" width="19.5" height="6.8999999999999995" fill="#20a850" stroke="none" stroke-width="0"/>
<rect x="185.65" y="334.45" width="19.5" height="6.55" fill="#2050d0" stroke="none" stroke-width="0"/>
<rect x="206.45000000000002" y="334.45" width="19.5" height="6.55" fill="#fff" stroke="none" stroke-width="0"/>
<text x="216.70000000000002" y="339.675" font-size="5.45" font-weight="normal" text-anchor="middle" fill="#000"  stroke="#000" stroke-width="0.3">-</text>
<rect x="227.25" y="334.45" width="19.5" height="6.55" fill="#fff" stroke="none" stroke-width="0"/>
<text x="237.5" y="339.675" font-size="5.45" font-weight="normal" text-anchor="middle" fill="#000"  stroke="#000" stroke-width="0.3">.0280</text>
<rect x="248.05" y="334.45" width="19.5" height="6.55" fill="#fff" stroke="none" stroke-width="0"/>
<text x="258.3" y="339.675" font-size="5.45" font-weight="normal" text-anchor="middle" fill="#000"  stroke="#000" stroke-width="0.3">.0006</text>
<rect x="268.84999999999997" y="334.45" width="19.5" height="6.55" fill="#fff" stroke="none" stroke-width="0"/>
<text x="279.09999999999997" y="339.675" font-size="5.45" font-weight="normal" text-anchor="middle" fill="#000"  stroke="#000" stroke-width="0.3">&lt;.0001</text>
<rect x="185.65" y="342.3" width="19.5" height="6.55" fill="#d20f0f" stroke="none" stroke-width="0"/>
<rect x="206.45000000000002" y="342.3" width="19.5" height="6.55" fill="#fff" stroke="none" stroke-width="0"/>
<text x="216.70000000000002" y="347.52500000000003" font-size="5.45" font-weight="normal" text-anchor="middle" fill="#000"  stroke="#000" stroke-width="0.3">.0280</text>
<rect x="227.25" y="342.3" width="19.5" height="6.55" fill="#fff" stroke="none" stroke-width="0"/>
<text x="237.5" y="347.52500000000003" font-size="5.45" font-weight="normal" text-anchor="middle" fill="#000"  stroke="#000" stroke-width="0.3">-</text>
<rect x="248.05" y="342.3" width="19.5" height="6.55" fill="#fff" stroke="none" stroke-width="0"/>
<text x="258.3" y="347.52500000000003" font-size="5.45" font-weight="normal" text-anchor="middle" fill="#000"  stroke="#000" stroke-width="0.3">.7123</text>
<rect x="268.84999999999997" y="342.3" width="19.5" height="6.55" fill="#fff" stroke="none" stroke-width="0"/>
<text x="279.09999999999997" y="347.52500000000003" font-size="5.45" font-weight="normal" text-anchor="middle" fill="#000"  stroke="#000" stroke-width="0.3">.1513</text>
<rect x="185.65" y="350.15" width="19.5" height="6.55" fill="#f8b800" stroke="none" stroke-width="0"/>
<rect x="206.45000000000002" y="350.15" width="19.5" height="6.55" fill="#fff" stroke="none" stroke-width="0"/>
<text x="216.70000000000002" y="355.375" font-size="5.45" font-weight="normal" text-anchor="middle" fill="#000"  stroke="#000" stroke-width="0.3">.0006</text>
<rect x="227.25" y="350.15" width="19.5" height="6.55" fill="#fff" stroke="none" stroke-width="0"/>
<text x="237.5" y="355.375" font-size="5.45" font-weight="normal" text-anchor="middle" fill="#000"  stroke="#000" stroke-width="0.3">.7123</text>
<rect x="248.05" y="350.15" width="19.5" height="6.55" fill="#fff" stroke="none" stroke-width="0"/>
<text x="258.3" y="355.375" font-size="5.45" font-weight="normal" text-anchor="middle" fill="#000"  stroke="#000" stroke-width="0.3">-</text>
<rect x="268.84999999999997" y="350.15" width="19.5" height="6.55" fill="#fff" stroke="none" stroke-width="0"/>
<text x="279.09999999999997" y="355.375" font-size="5.45" font-weight="normal" text-anchor="middle" fill="#000"  stroke="#000" stroke-width="0.3">.1125</text>
<rect x="185.65" y="358.0" width="19.5" height="6.55" fill="#20a850" stroke="none" stroke-width="0"/>
<rect x="206.45000000000002" y="358.0" width="19.5" height="6.55" fill="#fff" stroke="none" stroke-width="0"/>
<text x="216.70000000000002" y="363.225" font-size="5.45" font-weight="normal" text-anchor="middle" fill="#000"  stroke="#000" stroke-width="0.3">&lt;.0001</text>
<rect x="227.25" y="358.0" width="19.5" height="6.55" fill="#fff" stroke="none" stroke-width="0"/>
<text x="237.5" y="363.225" font-size="5.45" font-weight="normal" text-anchor="middle" fill="#000"  stroke="#000" stroke-width="0.3">.1513</text>
<rect x="248.05" y="358.0" width="19.5" height="6.55" fill="#fff" stroke="none" stroke-width="0"/>
<text x="258.3" y="363.225" font-size="5.45" font-weight="normal" text-anchor="middle" fill="#000"  stroke="#000" stroke-width="0.3">.1125</text>
<rect x="268.84999999999997" y="358.0" width="19.5" height="6.55" fill="#fff" stroke="none" stroke-width="0"/>
<text x="279.09999999999997" y="363.225" font-size="5.45" font-weight="normal" text-anchor="middle" fill="#000"  stroke="#000" stroke-width="0.3">-</text>
<text x="361.90000000000003" y="322.9" font-size="5.9" font-weight="bold" text-anchor="start" fill="#000"  stroke="#000" stroke-width="0.22">p from pairwise comparisons</text>
<rect x="361.7" y="323.7" width="84.2" height="30.249999999999996" fill="#000" stroke="none" stroke-width="0"/>
<rect x="362.95" y="324.95" width="19.45" height="6.6000000000000005" fill="#fff" stroke="none" stroke-width="0"/>
<rect x="383.7" y="324.95" width="19.45" height="6.6000000000000005" fill="#2050d0" stroke="none" stroke-width="0"/>
<rect x="404.45" y="324.95" width="19.45" height="6.6000000000000005" fill="#d20f0f" stroke="none" stroke-width="0"/>
<rect x="425.2" y="324.95" width="19.45" height="6.6000000000000005" fill="#f8b800" stroke="none" stroke-width="0"/>
<rect x="362.95" y="332.84999999999997" width="19.45" height="5.75" fill="#2050d0" stroke="none" stroke-width="0"/>
<rect x="383.7" y="332.84999999999997" width="19.45" height="5.75" fill="#fff" stroke="none" stroke-width="0"/>
<text x="393.925" y="337.67499999999995" font-size="5.7" font-weight="normal" text-anchor="middle" fill="#000"  stroke="#000" stroke-width="0.3">-</text>
<rect x="404.45" y="332.84999999999997" width="19.45" height="5.75" fill="#fff" stroke="none" stroke-width="0"/>
<text x="414.675" y="337.67499999999995" font-size="5.7" font-weight="normal" text-anchor="middle" fill="#000"  stroke="#000" stroke-width="0.3">.0051</text>
<rect x="425.2" y="332.84999999999997" width="19.45" height="5.75" fill="#fff" stroke="none" stroke-width="0"/>
<text x="435.425" y="337.67499999999995" font-size="5.7" font-weight="normal" text-anchor="middle" fill="#000"  stroke="#000" stroke-width="0.3">.0171</text>
<rect x="362.95" y="339.9" width="19.45" height="5.75" fill="#d20f0f" stroke="none" stroke-width="0"/>
<rect x="383.7" y="339.9" width="19.45" height="5.75" fill="#fff" stroke="none" stroke-width="0"/>
<text x="393.925" y="344.72499999999997" font-size="5.7" font-weight="normal" text-anchor="middle" fill="#000"  stroke="#000" stroke-width="0.3">.0051</text>
<rect x="404.45" y="339.9" width="19.45" height="5.75" fill="#fff" stroke="none" stroke-width="0"/>
<text x="414.675" y="344.72499999999997" font-size="5.7" font-weight="normal" text-anchor="middle" fill="#000"  stroke="#000" stroke-width="0.3">-</text>
<rect x="425.2" y="339.9" width="19.45" height="5.75" fill="#fff" stroke="none" stroke-width="0"/>
<text x="435.425" y="344.72499999999997" font-size="5.7" font-weight="normal" text-anchor="middle" fill="#000"  stroke="#000" stroke-width="0.3">.4170</text>
<rect x="362.95" y="346.95" width="19.45" height="5.75" fill="#f8b800" stroke="none" stroke-width="0"/>
<rect x="383.7" y="346.95" width="19.45" height="5.75" fill="#fff" stroke="none" stroke-width="0"/>
<text x="393.925" y="351.775" font-size="5.7" font-weight="normal" text-anchor="middle" fill="#000"  stroke="#000" stroke-width="0.3">.0171</text>
<rect x="404.45" y="346.95" width="19.45" height="5.75" fill="#fff" stroke="none" stroke-width="0"/>
<text x="414.675" y="351.775" font-size="5.7" font-weight="normal" text-anchor="middle" fill="#000"  stroke="#000" stroke-width="0.3">.4170</text>
<rect x="425.2" y="346.95" width="19.45" height="5.75" fill="#fff" stroke="none" stroke-width="0"/>
<text x="435.425" y="351.775" font-size="5.7" font-weight="normal" text-anchor="middle" fill="#000"  stroke="#000" stroke-width="0.3">-</text>
</svg>
</body></html>
